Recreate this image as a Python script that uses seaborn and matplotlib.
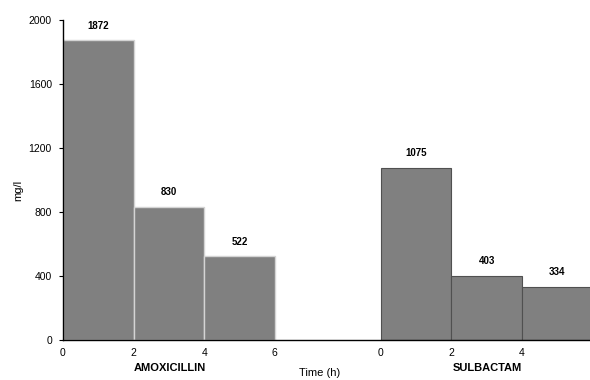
import matplotlib
matplotlib.use("Agg")
import matplotlib.pyplot as plt
import seaborn as sns

# Serumkonzentrationen (mg/l) je 2-h-Intervall
amox_times = [1, 3, 5]
amox_values = [1872, 830, 522]
sulb_times = [1, 3, 5]
sulb_values = [1075, 403, 334]
amox_edges = [0, 2, 4, 6]
sulb_edges = [0, 2, 4, 6]
tick_labels = ["0", "2", "4", "6", "0", "2", "4"]

offset = 9  # Abstand der Sulbactam-Gruppe auf der x-Achse

sns.set_style("white")
plt.rcParams["font.family"] = ["Liberation Sans", "DejaVu Sans"]
plt.rcParams["text.color"] = "black"
plt.rcParams["xtick.color"] = "black"
plt.rcParams["ytick.color"] = "black"

fig = plt.figure(figsize=(5.9, 3.8), dpi=100)
ax = fig.add_axes([63 / 590, 40 / 380, 527 / 590, 320 / 380])

sns.histplot(x=amox_times, weights=amox_values, bins=amox_edges, ax=ax,
             color="#808080", edgecolor="#d4d4d4", linewidth=1, alpha=1)
sns.histplot(x=[t + offset for t in sulb_times], weights=sulb_values,
             bins=[e + offset for e in sulb_edges], ax=ax,
             color="#808080", edgecolor="#505050", linewidth=0.8, alpha=1)

for cont in ax.containers:
    ax.bar_label(cont, padding=7, fontsize=7, fontweight="bold", color="black")

ax.set_xlim(0, 14.93)
ax.set_ylim(0, 2000)
ax.set_yticks([0, 400, 800, 1200, 1600, 2000])
ax.set_xticks(amox_edges + [e + offset for e in sulb_edges[:-1]])
ax.set_xticklabels(tick_labels)
ax.tick_params(axis="y", length=3, width=0.8, labelsize=7.5, direction="out", left=True, pad=5,
               colors="black")
ax.tick_params(axis="x", length=0, labelsize=7.5, pad=6, colors="black")

for side in ["top", "right"]:
    ax.spines[side].set_visible(False)
for side in ["left", "bottom"]:
    ax.spines[side].set_color("black")
    ax.spines[side].set_linewidth(1)

ax.set_xlabel("")
ax.set_ylabel("")
fig.text(18 / 590, 1 - 190 / 380, "mg/l", rotation=90, fontsize=8, ha="center", va="center")
fig.text(320 / 590, 1 - 373 / 380, "Time (h)", fontsize=8, ha="center", va="center")
fig.text(170 / 590, 1 - 368 / 380, "AMOXICILLIN", fontsize=8, fontweight="bold", ha="center", va="center")
fig.text(487 / 590, 1 - 368 / 380, "SULBACTAM", fontsize=8, fontweight="bold", ha="center", va="center")

fig.savefig("out.png", dpi=100)
